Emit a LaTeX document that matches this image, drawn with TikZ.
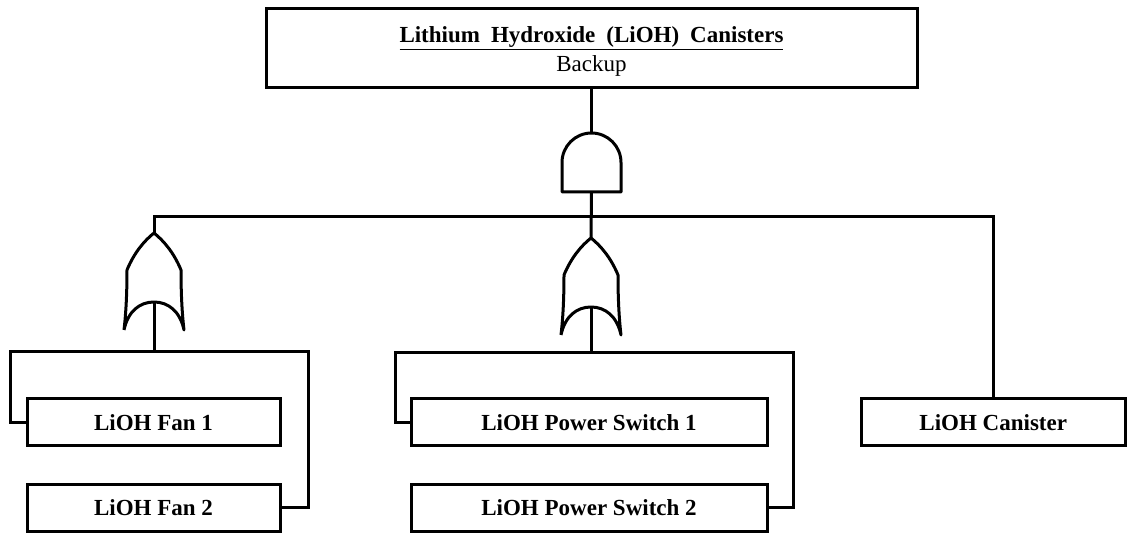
\documentclass[tikz,border=0pt]{standalone}
\usepackage{fontspec}
\setmainfont{Liberation Serif}
\begin{document}
\begin{tikzpicture}[x=1pt,y=1pt,line width=3pt,
  box/.style={draw,inner sep=0pt,minimum height=47pt,font=\fontsize{23}{29}\selectfont\bfseries},
  gate/.style={draw,line join=round}]
\useasboundingbox (0,0) rectangle (1128,-534);
% boxes
\node[draw,inner sep=0pt,minimum width=651pt,minimum height=79pt,align=center,
  font=\fontsize{23}{29}\selectfont] (top) at (591.5,-48.5)
  {\rule{0pt}{22pt}\underline{\textbf{Lithium\hspace{11pt}Hydroxide\hspace{11pt}(LiOH)\hspace{11pt}Canisters}}\\Backup};
\node[box,minimum width=253pt] (fan1) at (153.5,-422.5) {LiOH Fan 1};
\node[box,minimum width=253pt] (fan2) at (153.5,-508) {LiOH Fan 2};
\node[box,minimum width=356pt] (ps1) at (589,-422.5) {LiOH Power Switch 1};
\node[box,minimum width=356pt] (ps2) at (589,-508) {LiOH Power Switch 2};
\node[box,minimum width=264.5pt] (can) at (993.25,-422.5) {LiOH Canister};
% AND gate
\draw[gate] (562,-192) -- (562,-162.5) arc[start angle=180,end angle=0,radius=29.5pt] -- (621,-192) -- cycle;
\coordinate (andT) at (591.5,-133);
\coordinate (andB) at (591.5,-192);
% OR gates
\foreach \cx/\ty/\nm in {154/233/or1, 591/238/or2}{
  \begin{scope}[shift={(\cx,-\ty)}]
  \draw[gate] (-30,-97) .. controls (-28,-80) and (-27,-60) .. (-27,-37)
    .. controls (-20,-20) and (-10,-8) .. (0,0)
    .. controls (10,-8) and (20,-20) .. (27,-37)
    .. controls (27,-60) and (28,-80) .. (30,-97)
    .. controls (26,-78) and (14,-69) .. (0,-69)
    .. controls (-14,-69) and (-26,-78) .. (-30,-97);
  \coordinate (\nm T) at (0,0);
  \coordinate (\nm I) at (0,-69);
  \end{scope}
}
\coordinate (or1J) at (154,-352);
\coordinate (or2J) at (591,-353);
% connectors
\draw (top.south) -- (andT);
\draw (andB) -- (or2T);
\draw (or1T) -- ++(0,16.5) -| (can.north);
\draw (or1I) -- (or1J);
\draw (fan1.west) -- ++(-15,0) |- (or1J);
\draw (fan2.east) -- ++(27,0) |- (or1J);
\draw (or2I) -- (or2J);
\draw (ps1.west) -- ++(-14,0) |- (or2J);
\draw (ps2.east) -- ++(25,0) |- (or2J);
\end{tikzpicture}
\end{document}
